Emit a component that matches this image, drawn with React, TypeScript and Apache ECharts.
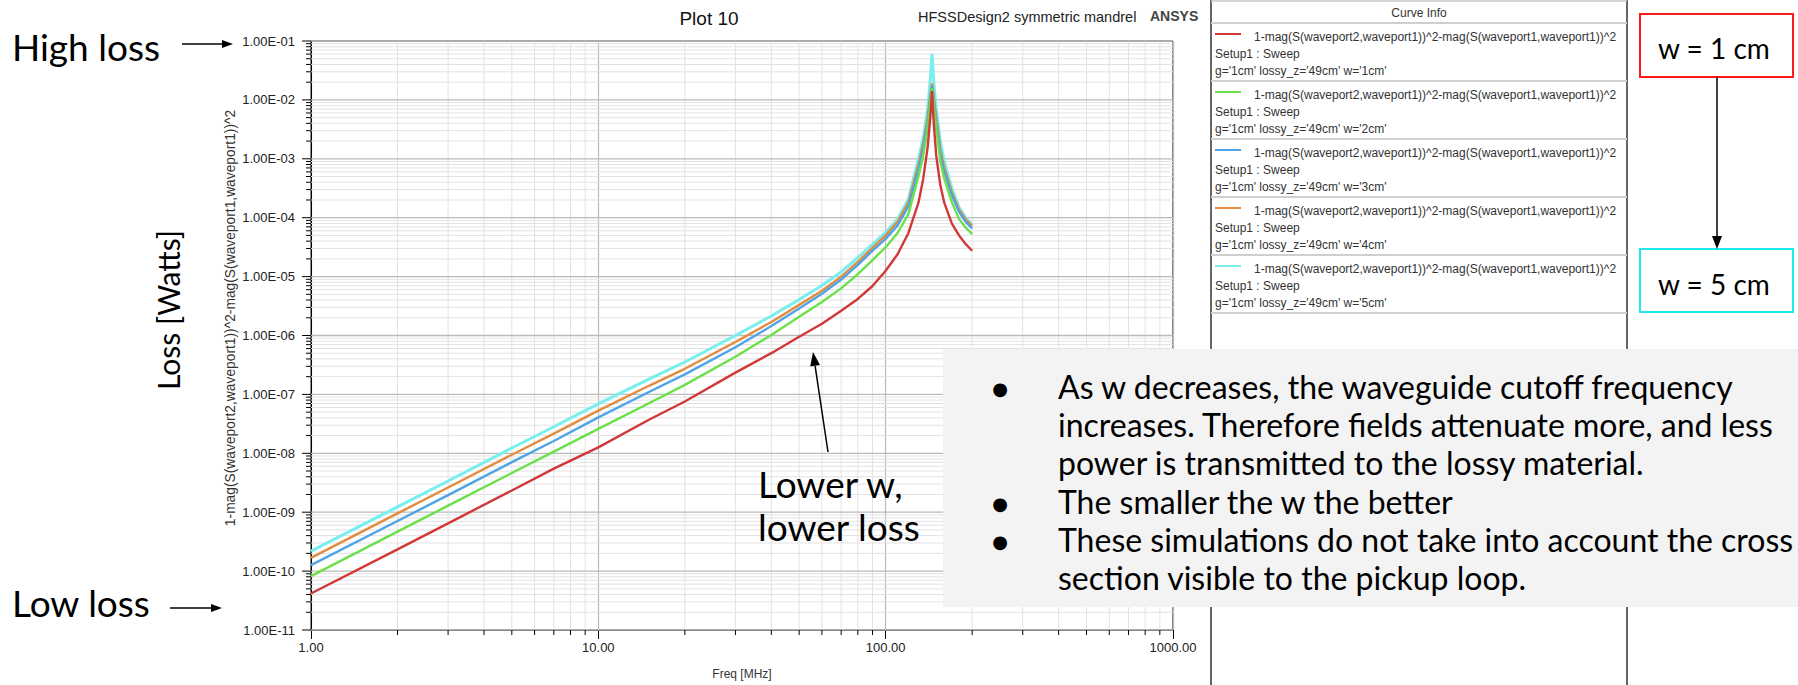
import React, { useEffect, useRef } from "react";
import * as echarts from "echarts";

// Sweep frequencies [MHz]
const freqMHz = [1, 2, 3, 5, 7, 10, 15, 20, 30, 40, 50, 60, 70, 80, 90, 100, 110, 120, 130, 135, 140, 143, 145, 147, 150, 155, 160, 170, 180, 190, 200];

// 1-|S21|^2-|S11|^2 for each guide width w
const lossW1cm = [4.17e-11, 2.34e-10, 6.46e-10, 2.34e-9, 5.5e-9, 1.26e-8, 3.72e-8, 7.59e-8, 2.34e-7, 5.01e-7, 9.55e-7, 1.58e-6, 2.63e-6, 4.17e-6, 6.92e-6, 1.26e-5, 2.4e-5, 5.5e-5, 1.78e-4, 4.47e-4, 1.58e-3, 5.01e-3, 1.41e-2, 3.98e-3, 1.12e-3, 3.55e-4, 1.78e-4, 7.94e-5, 5.01e-5, 3.55e-5, 2.75e-5];
const lossW2cm = [8.22e-11, 4.68e-10, 1.29e-9, 4.62e-9, 1.07e-8, 2.6e-8, 7.08e-8, 1.45e-7, 4.37e-7, 1.02e-6, 2.09e-6, 3.72e-6, 6.31e-6, 1.1e-5, 1.91e-5, 3.16e-5, 5.5e-5, 1.15e-4, 5.01e-4, 1.12e-3, 3.31e-3, 9.55e-3, 1.58e-2, 8.51e-3, 3.16e-3, 9.12e-4, 4.57e-4, 1.82e-4, 9.55e-5, 6.76e-5, 5.25e-5];
const lossW3cm = [1.26e-10, 7.08e-10, 1.95e-9, 7.08e-9, 1.62e-8, 4.07e-8, 1.1e-7, 2.19e-7, 6.31e-7, 1.45e-6, 2.88e-6, 5.13e-6, 8.91e-6, 1.58e-5, 2.75e-5, 4.37e-5, 7.41e-5, 1.55e-4, 6.61e-4, 1.48e-3, 4.17e-3, 1.12e-2, 1.74e-2, 1.0e-2, 3.98e-3, 1.17e-3, 6.03e-4, 2.4e-4, 1.26e-4, 8.51e-5, 6.61e-5];
const lossW4cm = [1.68e-10, 9.55e-10, 2.63e-9, 9.44e-9, 2.16e-8, 5.31e-8, 1.4e-7, 2.72e-7, 7.76e-7, 1.7e-6, 3.31e-6, 5.75e-6, 1.0e-5, 1.78e-5, 3.09e-5, 5.01e-5, 8.51e-5, 1.82e-4, 7.94e-4, 1.78e-3, 5.01e-3, 1.26e-2, 1.91e-2, 1.12e-2, 5.01e-3, 1.41e-3, 7.08e-4, 2.69e-4, 1.38e-4, 9.33e-5, 7.24e-5];
const lossW5cm = [2.19e-10, 1.23e-9, 3.39e-9, 1.23e-8, 2.82e-8, 6.92e-8, 1.82e-7, 3.55e-7, 1.0e-6, 2.14e-6, 4.07e-6, 7.08e-6, 1.2e-5, 2.09e-5, 3.55e-5, 5.62e-5, 9.55e-5, 2.09e-4, 1.0e-3, 2.24e-3, 7.08e-3, 2.24e-2, 6.03e-2, 2.0e-2, 7.08e-3, 2.0e-3, 8.91e-4, 3.16e-4, 1.51e-4, 1.0e-4, 7.59e-5];

const curveWidths = ["1cm", "2cm", "3cm", "4cm", "5cm"];
const curveLoss = [lossW1cm, lossW2cm, lossW3cm, lossW4cm, lossW5cm];
const curveColors = ["#d13838", "#6be04a", "#4ea4e6", "#e38b3e", "#79eeee"];

// axis limits and decades
const xRange = [1, 1000];
const yRange = [1e-11, 1e-1];
const xDecades = [1, 10, 100];
const yMajorTicks = [1e-11, 1e-10, 1e-9, 1e-8, 1e-7, 1e-6, 1e-5, 1e-4, 1e-3, 1e-2, 1e-1];
const minorSteps = [2, 3, 4, 5, 6, 7, 8, 9];

const curveExpr = "1-mag(S(waveport2,waveport1))^2-mag(S(waveport1,waveport1))^2";
const setupLabel = "Setup1 : Sweep";
const bulletPoints = [
  ["As w decreases, the waveguide cutoff frequency", "increases. Therefore fields attenuate more, and less", "power is transmitted to the lossy material."],
  ["The smaller the w the better"],
  ["These simulations do not take into account the cross", "section visible to the pickup loop."],
];

const SANS = "'Liberation Sans', Arial, sans-serif";
const LATO = "Lato, 'Noto Sans', sans-serif";

const xMinor = xDecades.flatMap((d) => minorSteps.map((m) => m * d));
const yMinor = yMajorTicks.slice(0, -1).flatMap((d) => minorSteps.map((m) => m * d));

const fmtExp = (v: number) => {
  const e = Math.round(Math.log10(v));
  const m = v / Math.pow(10, e);
  return `${m.toFixed(2)}E${e < 0 ? "-" : "+"}${String(Math.abs(e)).padStart(2, "0")}`;
};
const fmtFreq = (v: number) => Number(v).toFixed(2);

function txt(x: number, y: number, text: string, size: number, o: any = {}) {
  return {
    type: "text",
    x,
    y,
    rotation: o.rotation ?? 0,
    silent: true,
    z: o.z ?? 50,
    style: {
      text,
      fontSize: size,
      fontFamily: o.family ?? SANS,
      fontWeight: o.weight ?? "normal",
      fill: o.fill ?? "#000",
      align: o.align ?? "left",
      verticalAlign: o.va ?? "middle",
    },
  };
}
function seg(x1: number, y1: number, x2: number, y2: number, stroke: string, lw: number, z = 50) {
  return { type: "line", silent: true, z, shape: { x1, y1, x2, y2 }, style: { stroke, lineWidth: lw } };
}
function head(points: number[][], z = 50) {
  return { type: "polygon", silent: true, z, shape: { points }, style: { fill: "#000" } };
}

function buildGraphic() {
  const g: any[] = [];
  // side annotations
  g.push(txt(12, 46, "High loss", 37, { family: LATO }));
  g.push(seg(182, 44, 224, 44, "#000", 1.5));
  g.push(head([[233, 44], [222, 40], [222, 48]]));
  g.push(txt(12, 602, "Low loss", 37, { family: LATO }));
  g.push(seg(170, 608, 213, 608, "#000", 1.5));
  g.push(head([[222, 608], [211, 604], [211, 612]]));
  g.push(txt(168, 310, "Loss [Watts]", 30, { family: LATO, align: "center", rotation: Math.PI / 2 }));
  g.push(txt(230, 318, curveExpr, 13.8, { align: "center", rotation: Math.PI / 2, fill: "#333" }));

  // header
  g.push(txt(709, 18, "Plot 10", 19, { align: "center", fill: "#111" }));
  g.push(txt(918, 17, "HFSSDesign2 symmetric mandrel", 14.5, { fill: "#222" }));
  g.push(txt(1150, 16, "ANSYS", 14, { weight: "bold", fill: "#444" }));

  // curve info panel
  const pL = 1211, pR = 1627;
  g.push(seg(pL, 0, pL, 685, "#333", 1.5, 20));
  g.push(seg(pR, 0, pR, 685, "#333", 1.5, 20));
  g.push(seg(pL, 1, pR, 1, "#c8c8c8", 1.5, 20));
  g.push(txt(1419, 13, "Curve Info", 12, { align: "center", fill: "#333" }));
  g.push(seg(pL, 23, pR, 23, "#cfcfcf", 2, 20));
  curveWidths.forEach((w, i) => {
    const base = 23 + i * 58;
    g.push(seg(1215, base + 11, 1241, base + 11, curveColors[i], 2, 21));
    g.push(txt(1254, base + 14, curveExpr, 12, { fill: "#333" }));
    g.push(txt(1215, base + 31, setupLabel, 12, { fill: "#333" }));
    g.push(txt(1215, base + 48, `g='1cm' lossy_z='49cm' w='${w}'`, 12, { fill: "#333" }));
    g.push(seg(pL, base + 58, pR, base + 58, "#cfcfcf", 2, 20));
  });

  // width boxes
  g.push({ type: "rect", silent: true, z: 30, shape: { x: 1640, y: 14, width: 153, height: 63 }, style: { fill: "#fff", stroke: "#ff1a1a", lineWidth: 2 } });
  g.push(txt(1658, 48, "w = 1 cm", 28, { family: LATO }));
  g.push({ type: "rect", silent: true, z: 30, shape: { x: 1640, y: 249, width: 153, height: 63 }, style: { fill: "#fff", stroke: "#1ee8f0", lineWidth: 2 } });
  g.push(txt(1658, 284, "w = 5 cm", 28, { family: LATO }));
  g.push(seg(1717, 77, 1717, 237, "#000", 1.5, 31));
  g.push(head([[1717, 249], [1712, 236], [1722, 236]], 31));

  // note box
  g.push({ type: "rect", silent: true, z: 60, shape: { x: 943, y: 349, width: 855, height: 258 }, style: { fill: "#f3f3f3" } });
  const lineY = [386, 424, 462, 501, 539, 577];
  let li = 0;
  bulletPoints.forEach((lines) => {
    g.push(txt(1000, lineY[li] + 2, "●", 18, { family: "'DejaVu Sans', sans-serif", align: "center", z: 61 }));
    lines.forEach((l) => {
      g.push(txt(1058, lineY[li], l, 32, { family: LATO, z: 61 }));
      li += 1;
    });
  });

  // lower-w annotation
  g.push(txt(758, 483, "Lower w,", 37, { family: LATO }));
  g.push(txt(758, 526, "lower loss", 37, { family: LATO }));
  g.push(seg(828, 452, 815.1, 365.8, "#000", 1.5));
  g.push(head([[813, 352], [820, 365.1], [810.2, 366.5]]));
  return g;
}

// horizontal rules across the plot at the given loss values
function hLines(values: number[], color: string, lw: number, z: number) {
  return {
    type: "custom",
    silent: true,
    z,
    data: values.map((v) => [xRange[0], v]),
    renderItem: (_p: any, api: any) => {
      const a = api.coord([xRange[0], api.value(1)]);
      const b = api.coord([xRange[1], api.value(1)]);
      return { type: "line", shape: { x1: a[0], y1: a[1], x2: b[0], y2: b[1] }, style: { stroke: color, lineWidth: lw } };
    },
  };
}
// vertical rules at the given frequencies
function vLines(values: number[], color: string) {
  return {
    type: "custom",
    silent: true,
    z: 1,
    data: values.map((v) => [v, yRange[0]]),
    renderItem: (_p: any, api: any) => {
      const a = api.coord([api.value(0), yRange[0]]);
      const b = api.coord([api.value(0), yRange[1]]);
      return { type: "line", shape: { x1: a[0], y1: a[1], x2: b[0], y2: b[1] }, style: { stroke: color, lineWidth: 1 } };
    },
  };
}
// y ticks (outside, left) with optional exponent labels
function yTicks(values: number[], len: number, withLabel: boolean) {
  return {
    type: "custom",
    silent: true,
    z: 3,
    data: values.map((v) => [xRange[0], v]),
    renderItem: (_p: any, api: any) => {
      const v = api.value(1);
      const a = api.coord([xRange[0], v]);
      const tick = { type: "line", shape: { x1: a[0] - len, y1: a[1], x2: a[0], y2: a[1] }, style: { stroke: "#000", lineWidth: 1 } };
      if (!withLabel) return tick;
      return {
        type: "group",
        children: [
          tick,
          {
            type: "text",
            x: a[0] - 16,
            y: a[1],
            style: { text: fmtExp(v), fontSize: 13, fontFamily: SANS, fill: "#222", align: "right", verticalAlign: "middle", textAlign: "right", textVerticalAlign: "middle" },
          },
        ],
      };
    },
  };
}
function xTicks(values: number[]) {
  return {
    type: "custom",
    silent: true,
    z: 3,
    data: values.map((v) => [v, yRange[0]]),
    renderItem: (_p: any, api: any) => {
      const a = api.coord([api.value(0), yRange[0]]);
      return { type: "line", shape: { x1: a[0], y1: a[1], x2: a[0], y2: a[1] + 5 }, style: { stroke: "#000", lineWidth: 1 } };
    },
  };
}

export default function App() {
  const ref = useRef<HTMLDivElement>(null);
  useEffect(() => {
    document.body.style.margin = "0";
    document.body.style.overflow = "hidden";
    const chart = echarts.init(ref.current!, null, { renderer: "svg" });
    const drawOrder = [4, 3, 2, 1, 0];
    chart.setOption({
      animation: false,
      backgroundColor: "#ffffff",
      grid: { left: 311, right: 625, top: 41, bottom: 52, show: true, borderColor: "#000", borderWidth: 1, backgroundColor: "transparent" },
      xAxis: {
        type: "log",
        logBase: 10,
        min: xRange[0],
        max: xRange[1],
        splitNumber: 3,
        name: "Freq [MHz]",
        nameLocation: "middle",
        nameGap: 38,
        nameTextStyle: { fontFamily: SANS, fontSize: 12, color: "#333" },
        axisLine: { show: true, lineStyle: { color: "#000", width: 1 } },
        axisTick: { show: true, length: 9, lineStyle: { color: "#000" } },
        axisLabel: { formatter: fmtFreq, fontFamily: SANS, fontSize: 13, color: "#222", margin: 11 },
        splitLine: { show: true, lineStyle: { color: "#bababa", width: 1.2 } },
      },
      yAxis: {
        type: "log",
        logBase: 10,
        min: yRange[0],
        max: yRange[1],
        axisLine: { show: true, lineStyle: { color: "#000", width: 1 } },
        axisTick: { show: false },
        axisLabel: { show: false },
        splitLine: { show: false },
      },
      series: [
        hLines(yMinor, "#e2e2e2", 1, 1),
        vLines(xMinor, "#e2e2e2"),
        hLines(yMajorTicks, "#bababa", 1.3, 1),
        yTicks(yMinor, 5, false),
        yTicks(yMajorTicks, 9, true),
        xTicks(xMinor),
        ...drawOrder.map((i) => ({
          type: "line",
          name: `w='${curveWidths[i]}'`,
          data: freqMHz.map((f, k) => [f, curveLoss[i][k]]),
          showSymbol: false,
          symbol: "none",
          z: 2,
          lineStyle: { color: curveColors[i], width: i === 4 ? 3 : 2.4 },
          itemStyle: { color: curveColors[i] },
        })),
      ],
      graphic: buildGraphic(),
    });
    return () => chart.dispose();
  }, []);
  return <div ref={ref} style={{ width: 1798, height: 685 }} />;
}
